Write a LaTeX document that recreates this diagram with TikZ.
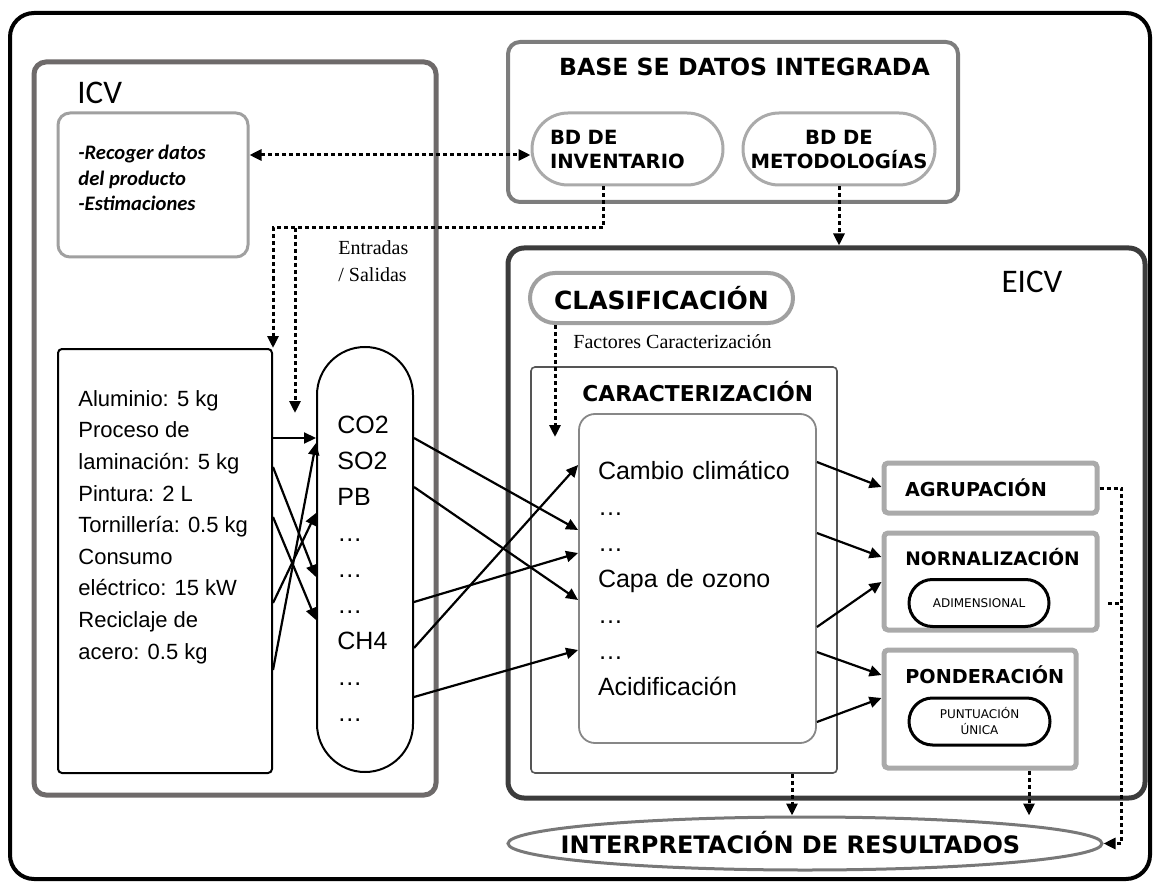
\documentclass[tikz,border=0pt]{standalone}
\usepackage{fontspec}
\setmainfont{Liberation Sans}
\newfontfamily\headfont{DejaVu Sans}
\newfontfamily\calfont{Carlito}
\newfontfamily\serfont{Liberation Serif}
\usetikzlibrary{arrows.meta,shapes.geometric}
\definecolor{icvgray}{RGB}{110,106,106}
\definecolor{basegray}{RGB}{125,125,125}
\definecolor{pillgray}{RGB}{170,170,170}
\definecolor{recgray}{RGB}{160,160,160}
\definecolor{eicvgray}{RGB}{60,60,60}
\definecolor{caractgray}{RGB}{85,85,85}
\definecolor{impgray}{RGB}{135,135,135}
\definecolor{stepgray}{RGB}{170,170,170}
\definecolor{interpgray}{RGB}{120,120,120}
\begin{document}
\begin{tikzpicture}[x=0.5pt, y=-0.5pt,
	>={Triangle[length=6pt,width=5.5pt]},
	box/.style={draw, inner sep=0pt, anchor=center},
	pill/.style={draw=pillgray, line width=1.5pt, rounded corners=18pt},
	stepbox/.style={draw=stepgray, line width=2.5pt, rounded corners=2pt},
	arr/.style={->, line width=1.1pt},
	dotarr/.style={->, line width=1.5pt, dash pattern=on 2pt off 1.5pt},
	head/.style 2 args={font=\headfont\bfseries\fontsize{#1}{#2}\selectfont}]
	\useasboundingbox (0,0) rectangle (1156,882);
	%frames
	\node[box, line width=2pt, rounded corners=12pt, minimum width=570pt, minimum height=433pt] (frame) at (580,446) {};
	\node[box, draw=icvgray, line width=2.5pt, rounded corners=6pt, minimum width=201pt, minimum height=366.5pt] (icv) at (235,428.5) {};
	\node[anchor=west, inner sep=0pt, font=\calfont\fontsize{16.5}{18}\selectfont] (icvt) at (77,92.5) {ICV};
	\node[box, draw=recgray, line width=1.5pt, rounded corners=6pt, minimum width=95pt, minimum height=72pt] (recoger) at (153,185) {};
	\node[anchor=north west, inner sep=0pt, align=left, font=\calfont\bfseries\itshape\fontsize{10.3}{12.75}\selectfont] (recogert) at (78,145)
		{-Recoger datos\\del producto\\-Estimaciones};
	%base de datos
	\node[box, draw=basegray, line width=2pt, rounded corners=6pt, minimum width=225pt, minimum height=80pt] (base) at (733,122) {};
	\node[inner sep=0pt, head={11.8}{14}] (baset) at (744.5,67) {BASE SE DATOS INTEGRADA};
	\node[box, pill, head={9.8}{12}, minimum width=95.5pt, minimum height=36pt, text width=77.5pt, inner xsep=9pt, align=left] (bdinv) at (627.5,149) {BD DE\\INVENTARIO};
	\node[box, pill, head={9.8}{12}, minimum width=96pt, minimum height=36pt, align=center] (bdmet) at (839,149) {BD DE\\METODOLOGÍAS};
	%eicv
	\node[box, draw=eicvgray, line width=2.5pt, rounded corners=8pt, minimum width=318.5pt, minimum height=275pt] (eicv) at (826.5,523) {};
	\node[inner sep=0pt, font=\calfont\fontsize{16.5}{18}\selectfont] (eicvt) at (1032,282) {EICV};
	\node[box, draw=recgray, line width=2pt, rounded corners=12.5pt, minimum width=131.5pt, minimum height=25pt, head={12.5}{14}] (clasif) at (661.5,298) {CLASIFICACIÓN};
	\node[anchor=west, inner sep=0pt, font=\serfont\fontsize{10}{12}\selectfont] (factt) at (573,342) {Factores Caracterización};
	\node[box, draw=caractgray, line width=0.8pt, rounded corners=2pt, minimum width=153pt, minimum height=203pt] (caract) at (684,570) {};
	\node[anchor=west, inner sep=0pt, head={10.9}{13}] (caractt) at (582,392) {CARACTERIZACIÓN};
	\node[box, draw=impgray, line width=0.9pt, rounded corners=8pt, minimum width=118.5pt, minimum height=164.5pt,
		text width=99.5pt, inner xsep=9.5pt, align=left, font=\fontsize{12.5}{18}\selectfont] (impact) at (697.5,578.5)
		{Cambio climático\\…\\…\\Capa de ozono\\…\\…\\Acidificación};
	%inventario
	\node[box, line width=1pt, rounded corners=2pt, minimum width=107pt, minimum height=212pt] (inbox) at (165,561) {};
	\node[anchor=north west, inner sep=0pt, align=left, font=\fontsize{11}{15.8}\selectfont] (inlist) at (78,390)
		{Aluminio: 5 kg\\Proceso de\\laminación: 5 kg\\Pintura: 2 L\\Tornillería: 0.5 kg\\Consumo\\eléctrico: 15 kW\\Reciclaje de\\acero: 0.5 kg};
	\node[box, line width=1pt, rounded corners=24pt, minimum width=48pt, minimum height=212.5pt] (gases) at (365,559.5) {};
	\node[anchor=north west, inner sep=0pt, align=left, font=\fontsize{12.5}{18}\selectfont] (gaslist) at (337,416)
		{CO2\\SO2\\PB\\…\\…\\…\\CH4\\…\\…};
	\node[anchor=west, inner sep=0pt, align=left, font=\serfont\fontsize{10}{13.5}\selectfont] (iot) at (338,261.5) {Entradas\\/ Salidas};
	%pasos
	\node[box, stepbox, head={9.6}{12}, minimum width=106.5pt, minimum height=25pt, text width=85.5pt, inner xsep=10.5pt, align=left] (agrup) at (990.5,488) {AGRUPACIÓN};
	\node[box, stepbox, minimum width=106.5pt, minimum height=48.5pt] (norn) at (990.5,581.5) {};
	\node[anchor=west, inner sep=0pt, head={9.3}{12}] (nornt) at (905,557) {NORNALIZACIÓN};
	\node[box, line width=1.5pt, rounded corners=11.75pt, minimum width=70pt, minimum height=23.5pt, font=\headfont\fontsize{6}{8}\selectfont] (adim) at (979,603) {ADIMENSIONAL};
	\node[box, stepbox, minimum width=96pt, minimum height=59pt] (pond) at (980,709) {};
	\node[anchor=west, inner sep=0pt, head={9.6}{12}] (pondt) at (905,675) {PONDERACIÓN};
	\node[box, line width=1.5pt, rounded corners=11.75pt, minimum width=70.5pt, minimum height=23.5pt, align=center, font=\headfont\fontsize{6}{8}\selectfont] (punt) at (979.5,721.5) {PUNTUACIÓN\\ÚNICA};
	%interpretacion
	\node[box, ellipse, draw=interpgray, line width=1.5pt, minimum width=297pt, minimum height=26.5pt] (interp) at (805,843.5) {};
	\node[inner sep=0pt, head={12}{14}] (interpt) at (790.5,843) {INTERPRETACIÓN DE RESULTADOS};
	%flechas
	\foreach \a/\b in {438/438, 467/577, 517/620, 603/513, 670/443}
	\draw[arr] (inbox.east |- 0,\a) -- (gases.west |- 0,\b);
	\foreach \a/\b in {438/530, 487/600, 602/553, 648/465, 697/650}
	\draw[arr] (gases.east |- 0,\a) -- (impact.west |- 0,\b);
	\foreach \a/\n/\b in {462/agrup/487, 533/norn/557, 627/norn/582, 652/pond/675, 722/pond/698}
	\draw[arr] (impact.east |- 0,\a) -- (\n.west |- 0,\b);
	%punteadas
	\coordinate (splitio) at (295,228);
	\coordinate (gasin) at (295,413);
	\coordinate (factin) at (555,437);
	\coordinate (nornstub) at (1108,603);
	\draw[dotarr, <->] (recoger.east |- 0,155) -- (bdinv.west |- 0,155);
	\draw[dotarr] (603,0 |- bdinv.south) |- (inbox.north east |- 0,228) -- (inbox.north east);
	\draw[dotarr] (splitio) -- (gasin);
	\draw[dotarr] (bdmet.south) -- (bdmet.south |- eicv.north);
	\draw[dotarr] (555,0 |- clasif.south) -- (factin);
	\draw[dotarr] (792,0 |- caract.south) -- (792,0 |- interp.north);
	\draw[dotarr] (1029,0 |- pond.south) -- (1029,0 |- interp.north);
	\draw[dotarr] (agrup.east) -- ++(22,0) |- (interp.east);
	\draw[dotarr, -] (nornstub) -- ++(11,0);
\end{tikzpicture}
\end{document}
